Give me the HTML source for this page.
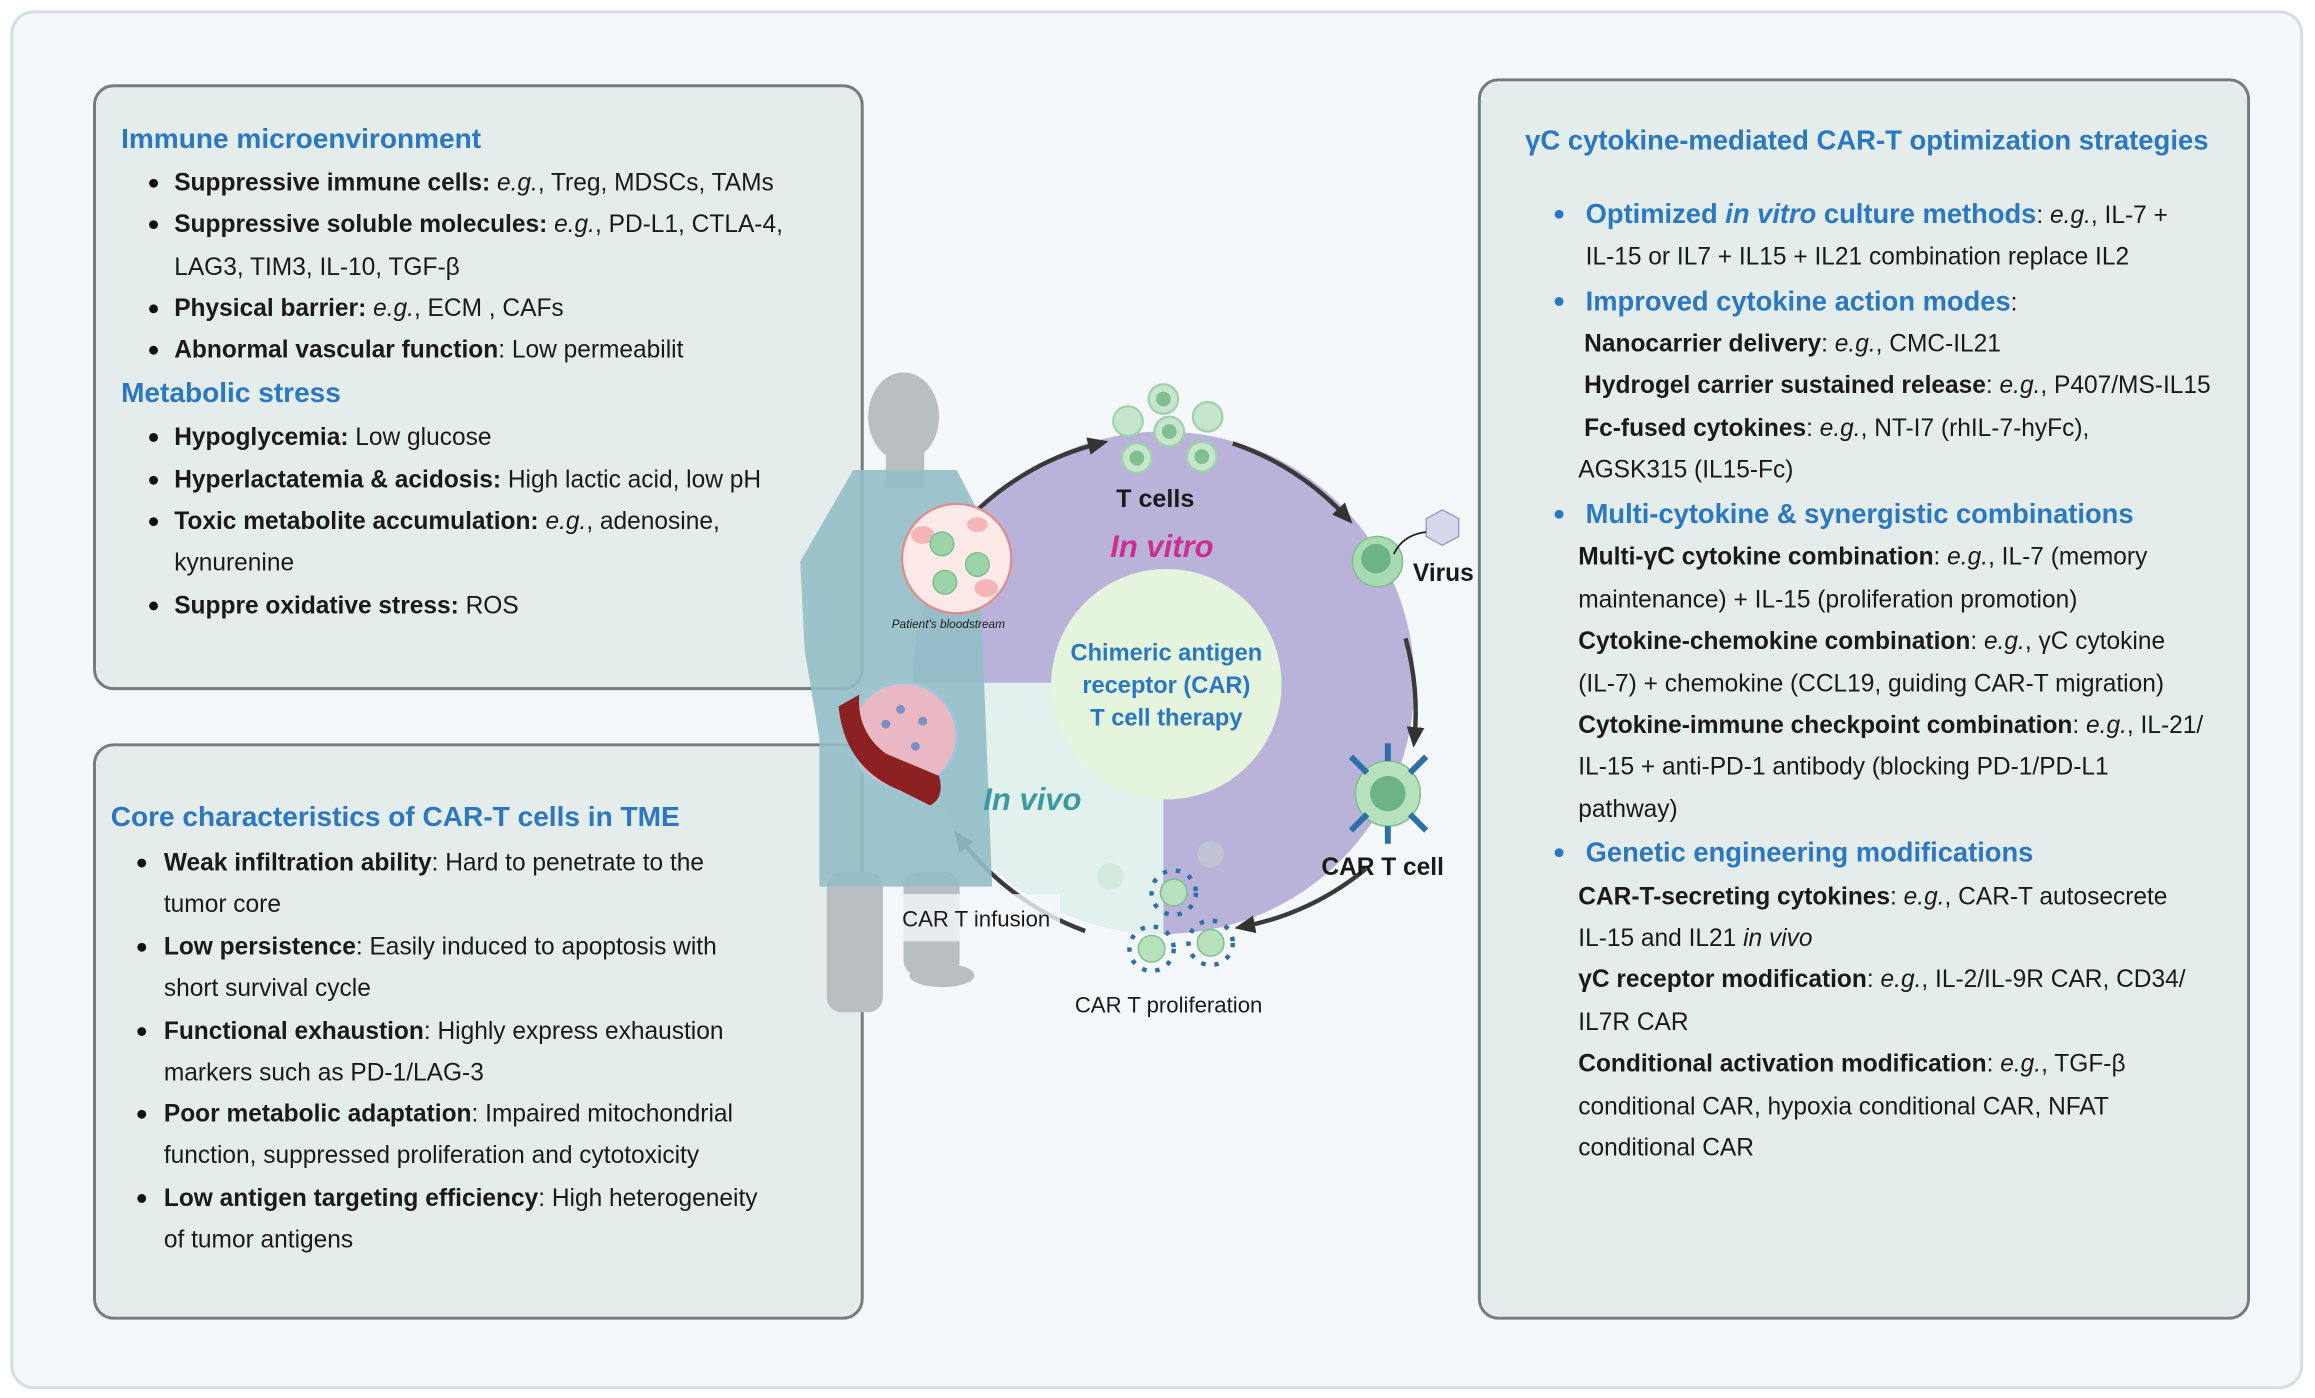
<!DOCTYPE html>
<html><head><meta charset="utf-8"><style>
*{margin:0;padding:0;box-sizing:border-box}
body{width:2315px;height:1398px;overflow:hidden;background:#fff;font-family:"Liberation Sans",Arial,sans-serif}
#s{position:absolute;left:0;top:0;width:1568px;height:946px;transform:scale(1.4764,1.4778);transform-origin:0 0}
.frame{position:absolute;left:7px;top:7px;width:1553px;height:933px;border:2px solid #d3dee6;border-radius:16px;background:#f4f8fb}
.box{position:absolute;background:#e4ecec;border:2.5px solid #737d80;border-radius:14px}
.t{position:absolute;font-size:16.6px;color:#1a1a1a;white-space:nowrap;line-height:20px}
.h{position:absolute;font-size:19px;color:#2b78c2;font-weight:bold;white-space:nowrap;line-height:22px}
.d{position:absolute;width:6px;height:6px;border-radius:50%;background:#111}
.db{position:absolute;width:6px;height:6px;border-radius:50%;background:#2b78c2}
b{font-weight:bold}
</style></head><body><div id="s">
<div class="frame"></div>
<div class="box" style="left:63px;top:57px;width:522px;height:410px"></div>
<div class="box" style="left:63px;top:503px;width:522px;height:390px"></div>
<div class="box" style="left:1001px;top:53px;width:523px;height:840px"></div>

<svg style="position:absolute;left:0;top:0" width="1568" height="946" viewBox="0 0 1568 946">
<defs><marker id="ar" markerUnits="userSpaceOnUse" markerWidth="14" markerHeight="14" refX="8" refY="7" orient="auto"><path d="M0,1 L14,7 L0,13 Z" fill="#333"/></marker></defs>
<circle cx="788" cy="462" r="170" fill="#b9b3d9"/>
<path d="M788,462 L618,462 A170,170 0 0 0 788,632 Z" fill="#e2f1ee"/>
<circle cx="790" cy="463" r="78" fill="#e5f4dc"/>
<g fill="none" stroke="#3a3a3a" stroke-width="3" marker-end="url(#ar)">
<path d="M660,347 A185,185 0 0 1 745,300"/>
<path d="M835,300 A185,185 0 0 1 912,350"/>
<path d="M952,432 A185,185 0 0 1 958,500"/>
<path d="M925,588 A185,185 0 0 1 842,627"/>
<path d="M735,630 A185,185 0 0 1 650,567"/>
</g>
<!-- person -->
<g fill="#b9bec1">
<ellipse cx="612" cy="282" rx="24" ry="30"/>
<rect x="600" y="300" width="26" height="30"/>
<rect x="560" y="590" width="38" height="95" rx="10"/>
<rect x="612" y="590" width="38" height="70" rx="10"/>
<ellipse cx="638" cy="660" rx="22" ry="8"/>
</g>
<path d="M578,318 L648,318 L662,345 L672,600 L555,600 L555,500 L545,440 L542,380 Z" fill="#93bec6" opacity="0.9"/>
<circle cx="648" cy="378" r="37" fill="#fde9e8" stroke="#e48a8a" stroke-width="1.5"/>
<g fill="#f4b5b8"><ellipse cx="625" cy="362" rx="8" ry="6"/><ellipse cx="668" cy="398" rx="8" ry="6"/><ellipse cx="662" cy="355" rx="7" ry="5"/></g>
<g fill="#9cd3a8" stroke="#7cbf8e"><circle cx="638" cy="368" r="8"/><circle cx="662" cy="382" r="8"/><circle cx="640" cy="394" r="8"/></g>
<circle cx="612" cy="498" r="36" fill="#eab8c2" stroke="#9fc7dc" stroke-width="2"/>
<g fill="#7b8fc7"><circle cx="600" cy="490" r="3"/><circle cx="620" cy="505" r="3"/><circle cx="610" cy="480" r="3"/><circle cx="625" cy="488" r="3"/></g>
<path d="M568,478 Q572,520 610,535 L630,545 Q640,540 636,525 L600,510 Q580,495 582,470 Z" fill="#8d2020"/>
<!-- cells -->
<g fill="#c5e6cc" stroke="#9fd1ab" stroke-width="1.5">
<circle cx="788" cy="270" r="10"/><circle cx="764" cy="285" r="10"/><circle cx="818" cy="282" r="10"/>
<circle cx="792" cy="292" r="10"/><circle cx="770" cy="310" r="10"/><circle cx="814" cy="309" r="10"/>
</g>
<g fill="#7ec08f"><circle cx="788" cy="270" r="5"/><circle cx="792" cy="292" r="5"/><circle cx="770" cy="310" r="5"/><circle cx="814" cy="309" r="5"/></g>
<circle cx="933" cy="380" r="17" fill="#a9dbb2" stroke="#7cbf8e"/><circle cx="932" cy="378" r="10" fill="#6db383"/>
<polygon points="977,345 988,351 988,363 977,369 966,363 966,351" fill="#d6d8ec" stroke="#9aa0cc"/>
<path d="M966,360 Q950,362 944,375" fill="none" stroke="#222" stroke-width="1.2"/>
<circle cx="940" cy="537" r="22" fill="#b7e1bd" stroke="#7cbf8e"/><circle cx="940" cy="537" r="12" fill="#6db383"/>
<g stroke="#2e6fa6" stroke-width="4"><line x1="926" y1="523" x2="915" y2="512"/><line x1="955" y1="523" x2="966" y2="512"/><line x1="926" y1="551" x2="915" y2="562"/><line x1="955" y1="551" x2="966" y2="562"/><line x1="940" y1="515" x2="940" y2="503"/><line x1="940" y1="559" x2="940" y2="571"/></g>
<g fill="#d0e7d6" opacity="0.8"><circle cx="752" cy="593" r="9"/><circle cx="820" cy="578" r="9" fill="#c3c8cf"/></g>
<g fill="#b7e1bd" stroke="#7cbf8e"><circle cx="795" cy="604" r="9"/><circle cx="780" cy="642" r="9"/><circle cx="820" cy="638" r="9"/></g>
<g stroke="#2e6fa6" stroke-width="3" fill="none"><circle cx="795" cy="604" r="15" stroke-dasharray="3 6"/><circle cx="780" cy="642" r="15" stroke-dasharray="3 6"/><circle cx="820" cy="638" r="15" stroke-dasharray="3 6"/></g>
<rect x="608" y="605" width="110" height="32" fill="#f4f8fb" opacity="0.8"/>
</svg>
<div class="t" style="left:756px;top:328px;font-weight:bold;font-size:17px">T cells</div>
<div class="t" style="left:752px;top:359px;font-weight:bold;font-style:italic;color:#cc2f8e;font-size:21px;line-height:24px">In vitro</div>
<div class="t" style="left:957px;top:378px;font-weight:bold">Virus</div>
<div class="t" style="left:666px;top:530px;font-weight:bold;font-style:italic;color:#3a9aa0;font-size:21px;line-height:24px">In vivo</div>
<div class="t" style="left:700px;top:432px;width:180px;text-align:center;color:#2b78c2;font-weight:bold;font-size:16px;line-height:22px">Chimeric antigen<br>receptor (CAR)<br>T cell therapy</div>
<div class="t" style="left:895px;top:577px;font-weight:bold">CAR T cell</div>
<div class="t" style="left:611px;top:613px;font-size:15px">CAR T infusion</div>
<div class="t" style="left:728px;top:671px;font-size:15px">CAR T proliferation</div>
<div class="t" style="left:604px;top:418px;font-size:8px;font-style:italic;line-height:10px">Patient's bloodstream</div>

<!-- box1 -->
<div class="h" style="left:82px;top:84px">Immune microenvironment</div>
<div class="d" style="left:101px;top:121px"></div><div class="t" style="left:118px;top:114px"><b>Suppressive immune cells:</b> <i>e.g.</i>, Treg, MDSCs, TAMs</div>
<div class="d" style="left:101px;top:149px"></div><div class="t" style="left:118px;top:142px"><b>Suppressive soluble molecules:</b> <i>e.g.</i>, PD-L1, CTLA-4,</div>
<div class="t" style="left:118px;top:171px">LAG3, TIM3, IL-10, TGF-β</div>
<div class="d" style="left:101px;top:206px"></div><div class="t" style="left:118px;top:199px"><b>Physical barrier:</b> <i>e.g.</i>, ECM , CAFs</div>
<div class="d" style="left:101px;top:234px"></div><div class="t" style="left:118px;top:227px"><b>Abnormal vascular function</b>: Low permeabilit</div>
<div class="h" style="left:82px;top:256px">Metabolic stress</div>
<div class="d" style="left:101px;top:293px"></div><div class="t" style="left:118px;top:286px"><b>Hypoglycemia:</b> Low glucose</div>
<div class="d" style="left:101px;top:322px"></div><div class="t" style="left:118px;top:315px"><b>Hyperlactatemia &amp; acidosis:</b> High lactic acid, low pH</div>
<div class="d" style="left:101px;top:350px"></div><div class="t" style="left:118px;top:343px"><b>Toxic metabolite accumulation:</b> <i>e.g.</i>, adenosine,</div>
<div class="t" style="left:118px;top:371px">kynurenine</div>
<div class="d" style="left:101px;top:407px"></div><div class="t" style="left:118px;top:400px"><b>Suppre oxidative stress:</b> ROS</div>

<!-- box2 -->
<div class="h" style="left:75px;top:543px">Core characteristics of CAR-T cells in TME</div>
<div class="d" style="left:93px;top:581px"></div><div class="t" style="left:111px;top:574px"><b>Weak infiltration ability</b>: Hard to penetrate to the</div>
<div class="t" style="left:111px;top:602px">tumor core</div>
<div class="d" style="left:93px;top:638px"></div><div class="t" style="left:111px;top:631px"><b>Low persistence</b>: Easily induced to apoptosis with</div>
<div class="t" style="left:111px;top:659px">short survival cycle</div>
<div class="d" style="left:93px;top:695px"></div><div class="t" style="left:111px;top:688px"><b>Functional exhaustion</b>: Highly express exhaustion</div>
<div class="t" style="left:111px;top:716px">markers such as PD-1/LAG-3</div>
<div class="d" style="left:93px;top:751px"></div><div class="t" style="left:111px;top:744px"><b>Poor metabolic adaptation</b>: Impaired mitochondrial</div>
<div class="t" style="left:111px;top:772px">function, suppressed proliferation and cytotoxicity</div>
<div class="d" style="left:93px;top:808px"></div><div class="t" style="left:111px;top:801px"><b>Low antigen targeting efficiency</b>: High heterogeneity</div>
<div class="t" style="left:111px;top:829px">of tumor antigens</div>

<!-- box3 -->
<div class="h" style="left:1033px;top:84px;font-size:18.6px">γC cytokine-mediated CAR-T optimization strategies</div>
<div class="db" style="left:1053px;top:142px"></div><div class="t" style="left:1074px;top:135px"><span style="color:#2b78c2;font-weight:bold;font-size:18.5px">Optimized <i>in vitro</i> culture methods</span>: <i>e.g.</i>, IL-7 +</div>
<div class="t" style="left:1074px;top:164px">IL-15 or IL7 + IL15 + IL21 combination replace IL2</div>
<div class="db" style="left:1053px;top:201px"></div><div class="t" style="left:1074px;top:194px"><span style="color:#2b78c2;font-weight:bold;font-size:18.5px">Improved cytokine action modes</span>:</div>
<div class="t" style="left:1073px;top:223px"><b>Nanocarrier delivery</b>: <i>e.g.</i>, CMC-IL21</div>
<div class="t" style="left:1073px;top:251px"><b>Hydrogel carrier sustained release</b>: <i>e.g.</i>, P407/MS-IL15</div>
<div class="t" style="left:1073px;top:280px"><b>Fc-fused cytokines</b>: <i>e.g.</i>, NT-I7 (rhIL-7-hyFc),</div>
<div class="t" style="left:1069px;top:308px">AGSK315 (IL15-Fc)</div>
<div class="db" style="left:1053px;top:345px"></div><div class="t" style="left:1074px;top:338px"><span style="color:#2b78c2;font-weight:bold;font-size:18.5px">Multi-cytokine &amp; synergistic combinations</span></div>
<div class="t" style="left:1069px;top:367px"><b>Multi-γC cytokine combination</b>: <i>e.g.</i>, IL-7 (memory</div>
<div class="t" style="left:1069px;top:396px">maintenance) + IL-15 (proliferation promotion)</div>
<div class="t" style="left:1069px;top:424px"><b>Cytokine-chemokine combination</b>: <i>e.g.</i>, γC cytokine</div>
<div class="t" style="left:1069px;top:453px">(IL-7) + chemokine (CCL19, guiding CAR-T migration)</div>
<div class="t" style="left:1069px;top:481px"><b>Cytokine-immune checkpoint combination</b>: <i>e.g.</i>, IL-21/</div>
<div class="t" style="left:1069px;top:509px">IL-15 + anti-PD-1 antibody (blocking PD-1/PD-L1</div>
<div class="t" style="left:1069px;top:538px">pathway)</div>
<div class="db" style="left:1053px;top:574px"></div><div class="t" style="left:1074px;top:567px"><span style="color:#2b78c2;font-weight:bold;font-size:18.5px">Genetic engineering modifications</span></div>
<div class="t" style="left:1069px;top:597px"><b>CAR-T-secreting cytokines</b>: <i>e.g.</i>, CAR-T autosecrete</div>
<div class="t" style="left:1069px;top:625px">IL-15 and IL21 <i>in vivo</i></div>
<div class="t" style="left:1069px;top:653px"><b>γC receptor modification</b>: <i>e.g.</i>, IL-2/IL-9R CAR, CD34/</div>
<div class="t" style="left:1069px;top:682px">IL7R CAR</div>
<div class="t" style="left:1069px;top:710px"><b>Conditional activation modification</b>: <i>e.g.</i>, TGF-β</div>
<div class="t" style="left:1069px;top:739px">conditional CAR, hypoxia conditional CAR, NFAT</div>
<div class="t" style="left:1069px;top:767px">conditional CAR</div>
</div></body></html>
